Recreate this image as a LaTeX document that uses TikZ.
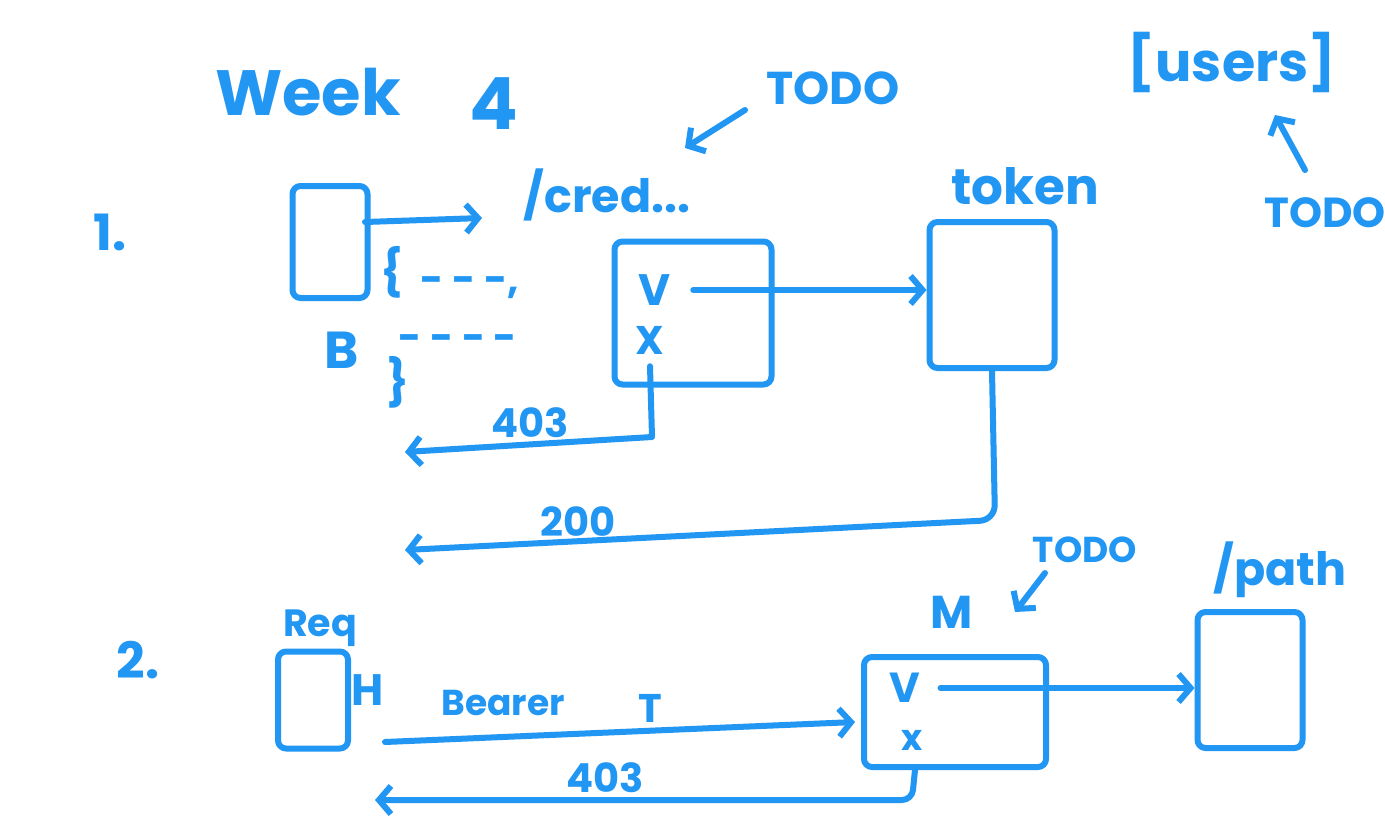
\documentclass[tikz,border=0pt]{standalone}
\usepackage{fontspec}
\setmainfont{Poppins}
\usetikzlibrary{arrows.meta}
\definecolor{ink}{RGB}{33,150,243}
\begin{document}
\begin{tikzpicture}[x=1pt,y=-1pt,
  ink/.style={draw=ink,line width=6pt,line cap=round,line join=round},
  box/.style={ink,rectangle,rounded corners=8pt,inner sep=0pt},
  arr/.style={ink,-{Straight Barb[length=12pt,width=28pt]}},
  lbl/.style={text=ink,inner sep=0pt,font=\fontsize{#1}{#1}\selectfont\bfseries},
  lbl/.default=40]
\useasboundingbox[fill=white] (0,0) rectangle (1385,815);

% ---------- titles ----------
\node[lbl=64] (week) at (308,92) {Week};
\node[lbl=72] (four) at (494,104) {4};
\node[lbl=50] (one) at (110,232) {1.};
\node[lbl=50] (two) at (138,660) {2.};

% ---------- section 1 ----------
\node[box,minimum width=75pt,minimum height=112pt] (cli) at (330,242) {};
\node[lbl=46] (cred) at (607,195) {/cred...};
\node[lbl=46] (todo1) at (833,88) {TODO};
\node[lbl=46] (lb) at (392,272) {\{};
\node[lbl=40] (dots1) at (470,288) {- - -,};
\node[lbl=52] (bb) at (342,350) {B};
\node[lbl=40] (dots2) at (458,343) {- - - -};
\node[lbl=46] (rb) at (398,382) {\}};

\node[box,minimum width=157pt,minimum height=143pt] (val) at (693,313) {};
\node[lbl=44] (vchk) at (655,290) {V};
\node[lbl=40] (xmark) at (650,340) {X};

\node[box,minimum width=125pt,minimum height=146pt] (tok) at (992,295) {};
\node[lbl=50] (toklbl) at (1025,186) {token};

\node[lbl=54] (users) at (1232,62) {[users]};
\node[lbl=42] (todo2) at (1325,213) {TODO};

\node[lbl=40] (l403) at (530,423) {403};
\node[lbl=40] (l200) at (578,522) {200};

\coordinate (cliout) at (365,222);
\coordinate (credin) at (482,218);
\coordinate (t1start) at (745,110);
\coordinate (t1end) at (685,148);
\coordinate (c403) at (652,437);
\coordinate (ret403) at (405,452);
\coordinate (c200) at (995,520);
\coordinate (ret200) at (405,550);
\coordinate (t2start) at (1305,170);
\coordinate (t2end) at (1275,115);

\draw[arr] (cliout) -- (credin);
\draw[arr] (t1start) -- (t1end);
\draw[arr] ([xshift=22pt]vchk.east) -- (vchk.east -| tok.west);
\draw[arr] ([yshift=-12pt]xmark.south) -- (c403) -- (ret403);
\draw[arr,rounded corners=15pt] (tok.south) -- (c200) -- (ret200);
\draw[arr] (t2start) -- (t2end);

% ---------- section 2 ----------
\node[box,minimum width=70pt,minimum height=97pt] (req) at (313,700) {};
\node[lbl=38] (reqlbl) at (320,628) {Req};
\node[lbl=44] (hh) at (368,690) {H};
\node[lbl=36] (bearer) at (503,703) {Bearer};
\node[lbl=40] (tt) at (650,708) {T};

\node[box,minimum width=182pt,minimum height=110pt] (mw) at (955,712) {};
\node[lbl=46] (mlbl) at (952,612) {M};
\node[lbl=36] (todo3) at (1085,550) {TODO};
\node[lbl=42] (vchk2) at (905,688) {V};
\node[lbl=36] (xmark2) at (912,740) {x};

\node[box,minimum width=105pt,minimum height=136pt] (path) at (1250,680) {};
\node[lbl=46] (pathlbl) at (1280,570) {/path};

\node[lbl=40] (l403b) at (605,778) {403};

\coordinate (hstart) at (385,742);
\coordinate (hend) at (855,722);
\coordinate (t3start) at (1045,573);
\coordinate (t3end) at (1015,612);
\coordinate (m1) at (915,0);
\coordinate (c403b) at (912,800);
\coordinate (ret2) at (375,800);

\draw[arr] (hstart) -- (hend);
\draw[arr] (t3start) -- (t3end);
\draw[arr] ([xshift=20pt]vchk2.east) -- (vchk2.east -| path.west);
\draw[arr,rounded corners=10pt] (mw.south -| m1) -- (c403b) -- (ret2);
\end{tikzpicture}
\end{document}
